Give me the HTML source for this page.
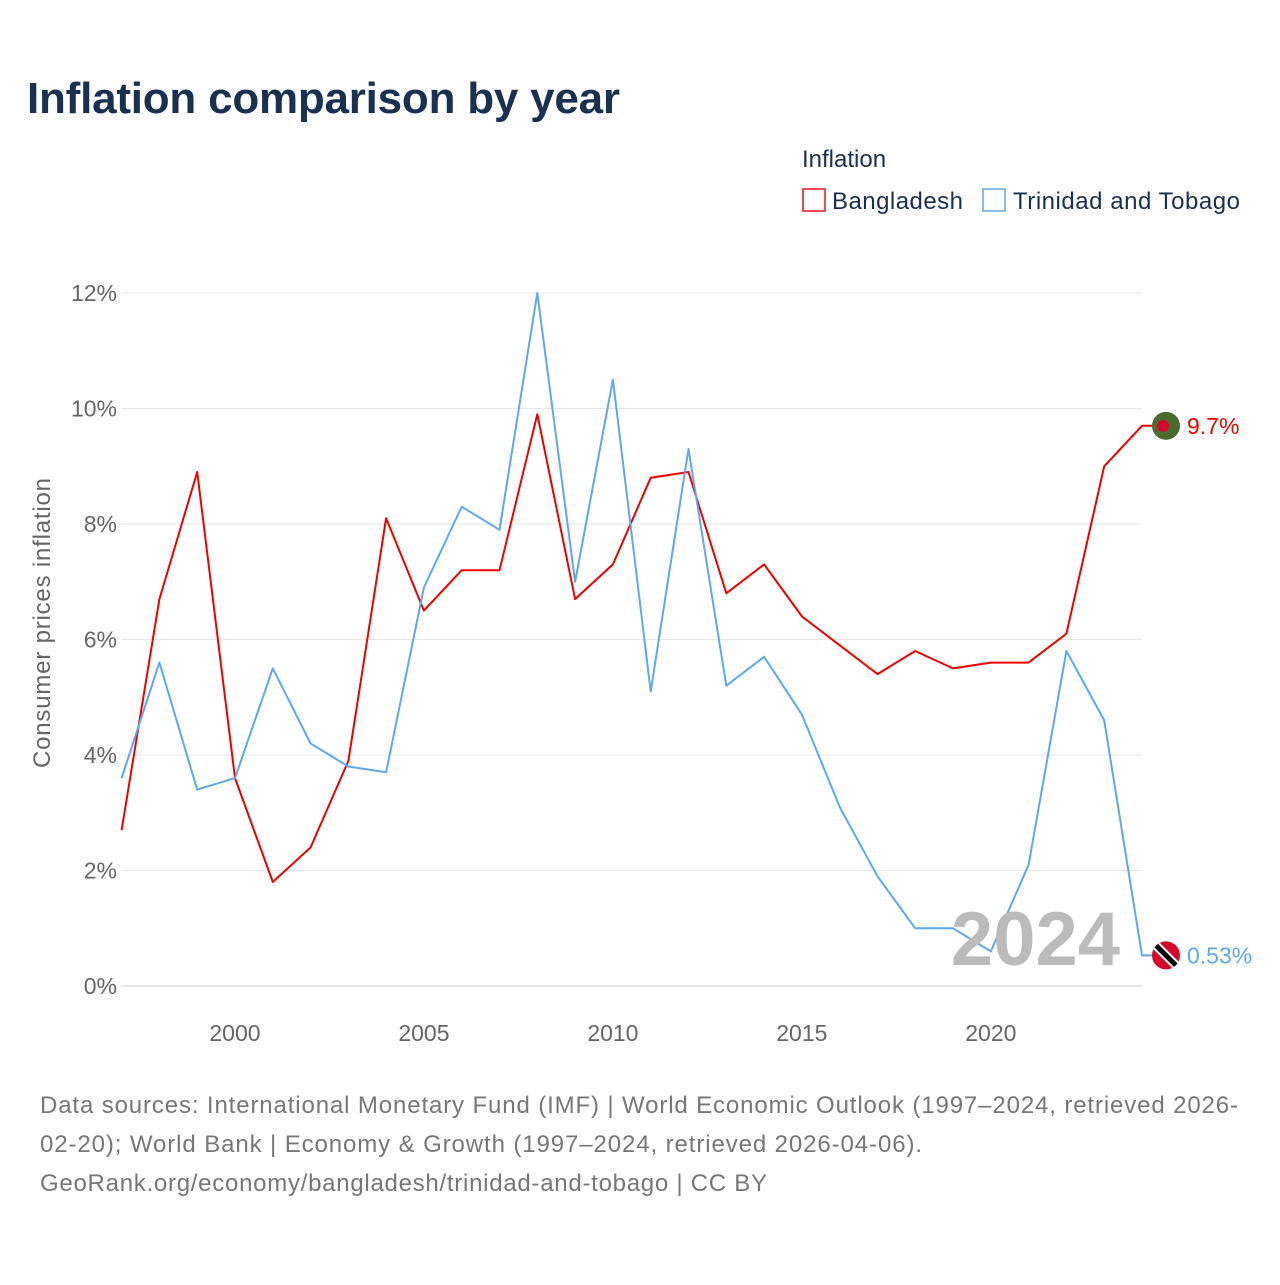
<!DOCTYPE html>
<html><head><meta charset="utf-8"><style>
body{margin:0;background:#fff;width:1280px;height:1280px;overflow:hidden;font-family:"Liberation Sans",sans-serif}
</style></head><body>
<svg id="c" width="1280" height="1280" xmlns="http://www.w3.org/2000/svg">
<text x="27" y="113" font-size="44" font-weight="bold" fill="#1a3050" textLength="593">Inflation comparison by year</text>
<text x="802" y="167" font-size="24" fill="#1a3050">Inflation</text>
<g><rect x="803" y="189" width="22" height="22" fill="none" stroke="#e8141a" stroke-width="1.5"/><text x="832" y="209" font-size="24" fill="#1a3050" textLength="131">Bangladesh</text></g>
<g><rect x="983" y="189" width="22" height="22" fill="none" stroke="#5ea9ea" stroke-width="1.5"/><text x="1013" y="209" font-size="24" fill="#1a3050" textLength="227">Trinidad and Tobago</text></g>
<text transform="translate(50,623) rotate(-90)" text-anchor="middle" font-size="24" fill="#666" textLength="290">Consumer prices inflation</text>
<g id="grid"></g><g id="lines"></g>
<text x="1120" y="965" text-anchor="end" font-size="76" font-weight="bold" fill="#bbb">2024</text>
<text x="40" y="1113" font-size="24" fill="#777" textLength="1198">Data sources: International Monetary Fund (IMF) | World Economic Outlook (1997–2024, retrieved 2026-</text>
<text x="40" y="1152" font-size="24" fill="#777" textLength="882">02-20); World Bank | Economy &amp; Growth (1997–2024, retrieved 2026-04-06).</text>
<text x="40" y="1191" font-size="24" fill="#777" textLength="727">GeoRank.org/economy/bangladesh/trinidad-and-tobago | CC BY</text>
</svg>
<script>
const years=[1997,1998,1999,2000,2001,2002,2003,2004,2005,2006,2007,2008,2009,2010,2011,2012,2013,2014,2015,2016,2017,2018,2019,2020,2021,2022,2023,2024];
const bangladesh=[2.7,6.7,8.9,3.6,1.8,2.4,3.9,8.1,6.5,7.2,7.2,9.9,6.7,7.3,8.8,8.9,6.8,7.3,6.4,5.9,5.4,5.8,5.5,5.6,5.6,6.1,9.0,9.7];
const trinidad=[3.6,5.6,3.4,3.6,5.5,4.2,3.8,3.7,6.9,8.3,7.9,12.0,7.0,10.5,5.1,9.3,5.2,5.7,4.7,3.1,1.9,1.0,1.0,0.6,2.1,5.8,4.6,0.53];
const yTicks=[0,2,4,6,8,10,12];
const xTicks=[2000,2005,2010,2015,2020];
const NS="http://www.w3.org/2000/svg";
const x=v=>121.6+(v-1997)*(1142-121.6)/27;
const y=v=>986-v*57.75;
function mk(t,a,p){const e=document.createElementNS(NS,t);for(const k in a)e.setAttribute(k,a[k]);p.appendChild(e);return e;}
const g=document.getElementById('grid'),L=document.getElementById('lines');
yTicks.forEach(v=>{
 const l=mk('line',{x1:121,x2:1142,y1:y(v),y2:y(v),stroke:v===0?'#ccc':'#e6e6e6'},g);
 
 
 const t=mk('text',{x:117,y:y(v)+8,'text-anchor':'end','font-size':23,fill:'#666'},g);t.textContent=v+'%';
 
 
});
xTicks.forEach(v=>{
 const t=mk('text',{x:x(v),y:1041,'text-anchor':'middle','font-size':23,fill:'#666'},g);t.textContent=v;
 
 
});
function series(vals,col,name,label){
 const last=vals[vals.length-1];
 let d=vals.map((v,i)=>(i?'L':'M')+x(years[i]).toFixed(1)+','+y(v).toFixed(1)).join('')+'L1155,'+y(last).toFixed(1);
 const p=mk('path',{d:d,fill:'none',stroke:col,'stroke-width':2,'stroke-linejoin':'round'},L);
 
 
 const t=mk('text',{x:1187,y:y(last)+8,'font-size':23,fill:col},L);t.textContent=label;
 
 
 return y(last);
}
const yb=series(bangladesh,'#f00000','bangladesh',bangladesh[27]+'%');
const yt=series(trinidad,'#5ea9ea','trinidad',trinidad[27]+'%');
const f1=mk('g',{},L);


mk('circle',{cx:1166,cy:yb,r:14,fill:'#4a6b2f'},f1);mk('circle',{cx:1163,cy:yb,r:6,fill:'#d9042a'},f1);
const f2=mk('g',{},L);


const cp=mk('clipPath',{id:'cp'},f2);
mk('circle',{cx:1166,cy:yt,r:14},cp);
mk('circle',{cx:1166,cy:yt,r:14,fill:'#d9042a'},f2);
mk('line',{x1:1156,y1:yt-10,x2:1176,y2:yt+10,stroke:'#fff','stroke-width':9,'clip-path':'url(#cp)'},f2);
mk('line',{x1:1156,y1:yt-10,x2:1176,y2:yt+10,stroke:'#000','stroke-width':5,'clip-path':'url(#cp)'},f2);
</script>
</body></html>
